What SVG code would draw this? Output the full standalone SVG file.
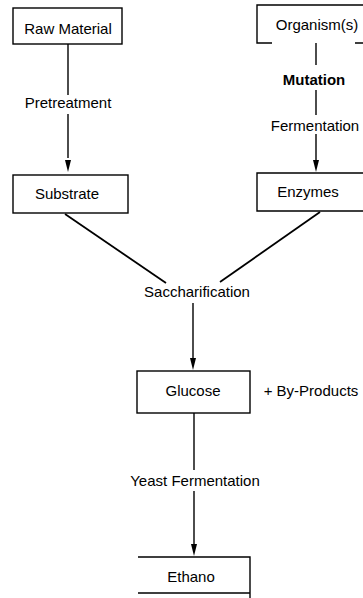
<svg xmlns="http://www.w3.org/2000/svg" width="363" height="598" viewBox="0 0 363 598">
  <style>
    .box { fill: #ffffff; stroke: #000000; stroke-width: 1.4; }
    .edge { fill: none; stroke: #000000; stroke-width: 1.4; }
    .diag { fill: none; stroke: #000000; stroke-width: 1.8; }
    text { font-family: "Liberation Sans", Arial, sans-serif; font-size: 15px; fill: #000000; text-anchor: middle; }
    .strong { font-weight: bold; }
  </style>
  <rect width="363" height="598" fill="#ffffff"/>

  <g id="connectors">
    <!-- Raw Material to Substrate -->
    <line class="edge" x1="68" y1="44" x2="68" y2="95"/>
    <line class="edge" x1="68" y1="114" x2="68" y2="158"/>
    <path d="M65,160 L71,160 L68,172 Z" fill="#000000"/>
    <!-- Organism(s) to Enzymes -->
    <line class="edge" x1="316" y1="43" x2="316" y2="65"/>
    <line class="edge" x1="316" y1="90" x2="316" y2="115"/>
    <line class="edge" x1="316" y1="134" x2="316" y2="160"/>
    <path d="M313,160 L319,160 L316,172 Z" fill="#000000"/>
    <!-- merge into saccharification -->
    <line class="diag" x1="65" y1="214" x2="166" y2="283"/>
    <line class="diag" x1="320" y1="212" x2="220" y2="282"/>
    <!-- Saccharification to Glucose -->
    <line class="edge" x1="193" y1="303" x2="193" y2="360"/>
    <path d="M190,358 L196,358 L193,370 Z" fill="#000000"/>
    <!-- Glucose to Ethano -->
    <line class="edge" x1="194" y1="413" x2="194" y2="470"/>
    <line class="edge" x1="194" y1="491" x2="194" y2="546"/>
    <path d="M191,544 L197,544 L194,556 Z" fill="#000000"/>
  </g>

  <g id="raw-material">
    <rect class="box" x="13" y="8" width="109" height="36"/>
    <text x="68" y="34">Raw Material</text>
  </g>
  <text x="68" y="108">Pretreatment</text>

  <g id="organisms">
    <path class="edge" d="M372,5 L257,5 L257,43 L272,43 M355,43 L372,43"/>
    <text x="317" y="30">Organism(s)</text>
  </g>
  <text class="strong" x="314" y="85">Mutation</text>
  <text x="315" y="131">Fermentation</text>

  <g id="substrate">
    <rect class="box" x="13" y="175" width="115" height="38"/>
    <text x="67" y="199">Substrate</text>
  </g>

  <g id="enzymes">
    <path class="edge" d="M372,173 L257,173 L257,211 L372,211"/>
    <text x="308" y="197">Enzymes</text>
  </g>

  <text x="197" y="297">Saccharification</text>

  <g id="glucose">
    <rect class="box" x="137" y="371" width="113" height="42"/>
    <text x="193" y="396">Glucose</text>
  </g>
  <text x="311" y="396">+ By-Products</text>

  <text x="195" y="486">Yeast Fermentation</text>

  <g id="ethano">
    <path class="edge" d="M138,557 L250,557 L250,598 M250,593 L138,593"/>
    <text x="191" y="582">Ethano</text>
  </g>
</svg>
